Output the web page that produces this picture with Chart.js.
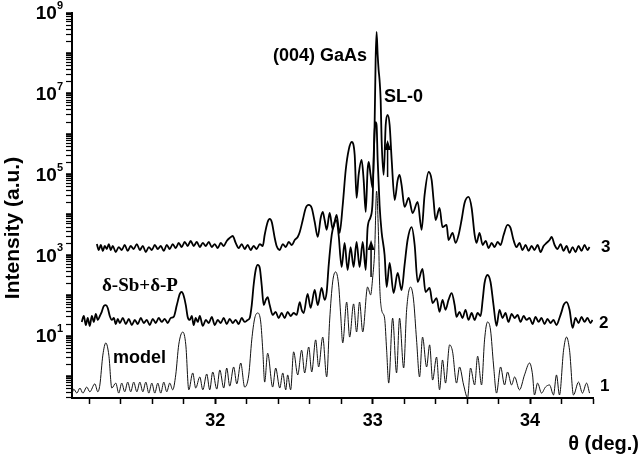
<!DOCTYPE html>
<html>
<head>
<meta charset="utf-8">
<script src="https://cdn.jsdelivr.net/npm/chart.js@4/dist/chart.umd.min.js"></script>
<style>
  html, body { margin: 0; padding: 0; background: #fff; }
  canvas { display: block; }
</style>
</head>
<body>
<canvas id="xrd" width="640" height="455"></canvas>
<script>
// curve 1 - model
const modelTheta = [31.089, 31.101, 31.121, 31.140, 31.159, 31.184, 31.203, 31.235, 31.254, 31.267,
  31.286, 31.305, 31.324, 31.343, 31.368, 31.387, 31.406, 31.425, 31.444, 31.463,
  31.482, 31.502, 31.521, 31.540, 31.559, 31.578, 31.597, 31.616, 31.635, 31.654,
  31.673, 31.692, 31.711, 31.730, 31.749, 31.768, 31.794, 31.813, 31.832, 31.857,
  31.876, 31.902, 31.921, 31.946, 31.965, 31.984, 32.010, 32.029, 32.054, 32.073,
  32.092, 32.117, 32.137, 32.162, 32.187, 32.213, 32.232, 32.251, 32.270, 32.289,
  32.302, 32.314, 32.333, 32.365, 32.384, 32.410, 32.429, 32.448, 32.460, 32.479,
  32.498, 32.524, 32.549, 32.568, 32.594, 32.613, 32.638, 32.657, 32.683, 32.708,
  32.727, 32.746, 32.765, 32.784, 32.797, 32.810, 32.835, 32.854, 32.879, 32.898,
  32.917, 32.937, 32.968, 32.987, 33.000, 33.013, 33.025, 33.038, 33.044, 33.057,
  33.076, 33.089, 33.102, 33.127, 33.152, 33.171, 33.197, 33.216, 33.241, 33.260,
  33.279, 33.298, 33.317, 33.343, 33.362, 33.381, 33.406, 33.425, 33.444, 33.463,
  33.489, 33.508, 33.533, 33.552, 33.578, 33.603, 33.622, 33.648, 33.667, 33.692,
  33.711, 33.730, 33.749, 33.768, 33.787, 33.813, 33.838, 33.857, 33.883, 33.902,
  33.933, 33.965, 33.997, 34.016, 34.028, 34.048, 34.073, 34.098, 34.124, 34.149,
  34.168, 34.187, 34.213, 34.232, 34.251, 34.276, 34.308, 34.333, 34.359, 34.378];
const modelInt = [0.35, 0.49, 0.39, 0.52, 0.39, 0.55, 0.42, 0.66, 0.42, 0.62,
  3.4, 6.8, 3.4, 0.52, 0.69, 0.39, 0.69, 0.42, 0.73, 0.42,
  0.73, 0.42, 0.73, 0.42, 0.73, 0.39, 0.69, 0.39, 0.69, 0.39,
  0.73, 0.42, 0.69, 0.47, 1.1, 6.1, 12.7, 6.1, 0.47, 1.23,
  0.52, 0.98, 0.47, 1.16, 0.47, 1.3, 0.49, 1.46, 0.52, 1.63,
  0.58, 1.73, 0.66, 2.17, 0.55, 1.1, 8.1, 28, 37.5, 22.5,
  4.5, 0.73, 3.8, 0.55, 1.63, 0.52, 1.23, 0.47, 1.1, 0.47,
  4.1, 1.1, 4.5, 1.23, 5.4, 1.3, 8.1, 1.73, 9.5, 0.98,
  25, 220, 390, 185, 33.5, 6.8, 70, 9.5, 63, 12.7,
  70, 12.7, 165, 105, 276, 1360, 3.9e4, 2400, 220, 45,
  28, 4.5, 0.69, 28, 1.23, 28, 1.63, 45, 165, 79,
  8.1, 0.98, 9.5, 1.73, 6.1, 0.82, 3.05, 0.47, 2.58, 0.69,
  6.1, 4.1, 0.69, 1.73, 0.62, 0.30, 1.63, 0.62, 3.2, 0.62,
  8.1, 22.5, 14.2, 1.94, 0.39, 1.73, 0.62, 1.3, 0.62, 0.98,
  0.47, 1.1, 2.17, 1.1, 0.35, 0.69, 0.39, 0.55, 0.62, 0.35,
  1.1, 0.35, 4.5, 9.5, 4.5, 0.35, 0.73, 0.39, 0.69, 0.39];

// curve 2 - delta-Sb + delta-P
const sbpTheta = [31.152, 31.165, 31.178, 31.190, 31.203, 31.216, 31.229, 31.241, 31.254, 31.267,
  31.279, 31.292, 31.305, 31.317, 31.330, 31.343, 31.356, 31.368, 31.381, 31.394,
  31.413, 31.432, 31.451, 31.470, 31.489, 31.508, 31.527, 31.546, 31.565, 31.584,
  31.603, 31.622, 31.641, 31.660, 31.679, 31.698, 31.717, 31.736, 31.756, 31.775,
  31.787, 31.800, 31.813, 31.825, 31.838, 31.851, 31.863, 31.876, 31.889, 31.902,
  31.921, 31.940, 31.959, 31.978, 31.997, 32.016, 32.035, 32.054, 32.073, 32.092,
  32.111, 32.130, 32.149, 32.168, 32.187, 32.206, 32.219, 32.232, 32.244, 32.257,
  32.270, 32.283, 32.295, 32.308, 32.321, 32.333, 32.346, 32.365, 32.384, 32.403,
  32.422, 32.441, 32.460, 32.479, 32.498, 32.517, 32.537, 32.549, 32.562, 32.587,
  32.606, 32.632, 32.651, 32.676, 32.695, 32.708, 32.721, 32.740, 32.759, 32.771,
  32.784, 32.803, 32.822, 32.841, 32.860, 32.879, 32.898, 32.917, 32.937, 32.956,
  32.968, 32.987, 33.000, 33.006, 33.013, 33.019, 33.025, 33.032, 33.044, 33.057,
  33.076, 33.089, 33.108, 33.133, 33.159, 33.184, 33.203, 33.222, 33.248, 33.267,
  33.286, 33.317, 33.336, 33.362, 33.381, 33.406, 33.425, 33.444, 33.463, 33.482,
  33.502, 33.521, 33.533, 33.552, 33.571, 33.590, 33.609, 33.629, 33.648, 33.667,
  33.686, 33.699, 33.711, 33.730, 33.749, 33.768, 33.787, 33.806, 33.825, 33.844,
  33.863, 33.883, 33.902, 33.921, 33.940, 33.959, 33.978, 33.997, 34.016, 34.035,
  34.054, 34.073, 34.092, 34.111, 34.130, 34.149, 34.168, 34.187, 34.200, 34.213,
  34.232, 34.251, 34.270, 34.289, 34.308, 34.327, 34.346, 34.365, 34.384, 34.397];
const sbpInt = [22.5, 31.6, 18.9, 28.2, 17.9, 31.6, 22.5, 35.5, 25.2, 31.6,
  40, 56, 59, 50, 31.6, 25.2, 28.2, 20, 26.7, 21.2,
  28.2, 20, 26.7, 18.9, 25.2, 20, 28.2, 21.2, 25.2, 18.9,
  26.7, 21.2, 28.2, 22.5, 26.7, 21.2, 28.2, 30, 59, 111,
  124, 99, 59, 30, 25.2, 31.6, 18.9, 28.2, 22.5, 31.6,
  17.9, 25.2, 21.2, 30, 18.9, 25.2, 21.2, 28.2, 20, 26.7,
  21.2, 25.2, 20, 28.2, 22.5, 25.2, 28.2, 59, 185, 435,
  580, 488, 185, 59, 79, 93, 59, 33.5, 40, 28.2,
  37.5, 28.2, 40, 31.6, 37.5, 33.5, 70, 45, 37.5, 111,
  50, 139, 59, 156, 79, 124, 580, 3200, 6700, 7500,
  3200, 516, 2030, 435, 1610, 516, 2150, 516, 2150, 435,
  4800, 8900, 2.35e4, 2.3e5, 1.27e6, 2.0e6, 1.69e6, 2.3e5, 1.77e4, 3800,
  1020, 165, 650, 117, 366, 139, 580, 2400, 5000, 1810,
  220, 460, 124, 156, 66, 88, 40, 79, 45, 79,
  117, 59, 30, 40, 28.2, 45, 25.2, 37.5, 25.2, 37.5,
  31.6, 79, 207, 327, 220, 59, 17.9, 45, 28.2, 37.5,
  22.5, 35.5, 28.2, 33.5, 22.5, 31.6, 25.2, 28.2, 20, 30,
  22.5, 28.2, 20, 26.7, 21.2, 25.2, 18.9, 28.2, 40, 59,
  70, 45, 16, 28.2, 21.2, 30, 22.5, 28.2, 21.2, 25.2];

// curve 3 - measured, top trace
const topTheta = [31.248, 31.260, 31.273, 31.286, 31.298, 31.311, 31.324, 31.336, 31.349, 31.368,
  31.387, 31.406, 31.425, 31.444, 31.463, 31.482, 31.502, 31.521, 31.540, 31.559,
  31.578, 31.597, 31.616, 31.635, 31.654, 31.673, 31.692, 31.711, 31.730, 31.749,
  31.768, 31.787, 31.806, 31.825, 31.844, 31.863, 31.883, 31.902, 31.921, 31.940,
  31.959, 31.978, 31.997, 32.016, 32.035, 32.054, 32.073, 32.092, 32.111, 32.130,
  32.149, 32.168, 32.187, 32.206, 32.225, 32.244, 32.263, 32.283, 32.302, 32.314,
  32.333, 32.346, 32.359, 32.378, 32.390, 32.410, 32.429, 32.448, 32.467, 32.486,
  32.505, 32.524, 32.537, 32.556, 32.575, 32.594, 32.613, 32.632, 32.651, 32.670,
  32.683, 32.695, 32.708, 32.727, 32.746, 32.771, 32.790, 32.810, 32.829, 32.848,
  32.867, 32.886, 32.898, 32.911, 32.930, 32.943, 32.956, 32.968, 32.975, 32.987,
  33.000, 33.013, 33.019, 33.025, 33.032, 33.038, 33.044, 33.051, 33.057, 33.070,
  33.083, 33.095, 33.108, 33.121, 33.140, 33.159, 33.171, 33.184, 33.203, 33.229,
  33.254, 33.286, 33.311, 33.330, 33.356, 33.375, 33.387, 33.400, 33.425, 33.444,
  33.470, 33.482, 33.508, 33.527, 33.546, 33.565, 33.584, 33.609, 33.629, 33.648,
  33.660, 33.679, 33.699, 33.718, 33.737, 33.756, 33.775, 33.794, 33.813, 33.832,
  33.857, 33.876, 33.895, 33.914, 33.933, 33.952, 33.972, 33.991, 34.010, 34.028,
  34.048, 34.067, 34.086, 34.105, 34.124, 34.137, 34.156, 34.175, 34.194, 34.213,
  34.232, 34.251, 34.270, 34.289, 34.308, 34.327, 34.346, 34.365, 34.378];
const topInt = [1910, 1360, 1810, 1290, 1710, 1440, 1910, 1360, 1710, 1210,
  1610, 1360, 1810, 1290, 1710, 1440, 1910, 1360, 1710, 1210,
  1610, 1360, 1810, 1440, 1710, 1290, 1810, 1440, 1910, 1520,
  2030, 1610, 2150, 1710, 2280, 1710, 2150, 1610, 2030, 1710,
  2150, 1610, 1910, 1520, 2030, 1710, 2280, 2700, 3020, 2030,
  1520, 1910, 1440, 1810, 1360, 1710, 1440, 1910, 1710, 3200,
  6700, 8000, 6700, 2700, 1710, 1360, 1910, 1610, 2150, 1810,
  2400, 2860, 3800, 7500, 1.49e4, 1.77e4, 1.49e4, 6700, 2860, 8400,
  1.19e4, 7500, 4300, 1.12e4, 4500, 1.0e4, 3600, 1.77e4, 1.3e5, 4.1e5,
  6.4e5, 3.06e5, 2.64e4, 9.8e4, 2.3e5, 7.3e4, 1.19e4, 1.3e5, 2.05e5, 9.8e4,
  4.66e4, 2.24e6, 6.9e7, 3.4e8, 9.1e7, 3.9e7, 2.2e7, 7.0e6, 7.2e5, 9.8e4,
  1.69e6, 3.0e6, 1.69e6, 2.3e5, 2.35e4, 7.3e4, 9.8e4, 5.5e4, 1.58e4, 2.64e4,
  1.12e4, 2.1e4, 4300, 3.1e4, 1.16e5, 7.3e4, 2.35e4, 7500, 1.49e4, 5000,
  5700, 2400, 3600, 2030, 3200, 7500, 1.98e4, 2.8e4, 1.49e4, 3200,
  2030, 3600, 1810, 2280, 1520, 2030, 1610, 2150, 1810, 3200,
  5700, 4800, 2400, 1610, 2030, 1360, 1810, 1290, 1710, 1360,
  1810, 1210, 1710, 2030, 2400, 2860, 1810, 1440, 1910, 1290,
  1710, 1150, 1610, 1210, 1710, 1290, 1810, 1360, 1610];

// axes
const thetaTicks = [31.2, 31.4, 31.6, 31.8, 32, 32.2, 32.4, 32.6, 32.8, 33,
  33.2, 33.4, 33.6, 33.8, 34, 34.2, 34.4];
const thetaLabelled = [32, 33, 34];
const decadeExps = [1, 3, 5, 7, 9];

// SL-0 arrows: theta, base intensity, tip intensity
const arrowTheta = [32.99, 33.095];
const arrowBase = [290, 8.7e4];
const arrowTip = [2400, 7.2e5];

const SANS = '"Liberation Sans", Arial, sans-serif';

function pairs(xs, ys) {
  return xs.map((t, i) => ({ x: t, y: ys[i] }));
}

const overlay = {
  id: 'overlay',
  afterDraw(chart) {
    const { ctx } = chart;
    const xs = chart.scales.x, ys = chart.scales.y;
    ctx.save();
    ctx.fillStyle = '#000';
    ctx.strokeStyle = '#000';
    ctx.textBaseline = 'middle';

    // 10^n labels
    decadeExps.forEach(e => {
      const py = ys.getPixelForValue(Math.pow(10, e));
      ctx.font = 'bold 11px ' + SANS;
      const ew = ctx.measureText(String(e)).width;
      ctx.textAlign = 'left';
      ctx.fillText(String(e), 63 - ew, py - 7);
      ctx.font = 'bold 19px ' + SANS;
      ctx.textAlign = 'right';
      ctx.fillText('10', 63 - ew, py + 1);
    });

    // axis titles
    ctx.save();
    ctx.translate(13, 228);
    ctx.rotate(-Math.PI / 2);
    ctx.textAlign = 'center';
    ctx.font = 'bold 21px ' + SANS;
    ctx.fillText('Intensity (a.u.)', 0, 0);
    ctx.restore();

    ctx.textAlign = 'right';
    ctx.font = 'bold 20px ' + SANS;
    ctx.fillText('\u03b8 (deg.)', 639, 444);

    // annotations
    ctx.font = 'bold 18px ' + SANS;
    ctx.fillText('(004) GaAs', 367, 56);
    ctx.textAlign = 'left';
    ctx.fillText('SL-0', 384, 97);
    ctx.fillText('model', 113, 358);
    ctx.font = 'bold 19px "Liberation Serif", "Times New Roman", serif';
    ctx.fillText('\u03b4-Sb+\u03b4-P', 102, 286);
    ctx.font = 'bold 17px ' + SANS;
    ctx.fillText('3', 601, 247);
    ctx.fillText('2', 599, 323);
    ctx.fillText('1', 600, 386);

    // arrows
    arrowTheta.forEach((t, i) => {
      const px = xs.getPixelForValue(t);
      const yb = ys.getPixelForValue(arrowBase[i]);
      const yt = ys.getPixelForValue(arrowTip[i]);
      ctx.lineWidth = 1.5;
      ctx.beginPath();
      ctx.moveTo(px, yb);
      ctx.lineTo(px, yt + 8);
      ctx.stroke();
      ctx.beginPath();
      ctx.moveTo(px, yt);
      ctx.lineTo(px - 3.5, yt + 10);
      ctx.lineTo(px + 3.5, yt + 10);
      ctx.closePath();
      ctx.fill();
    });
    ctx.restore();
  }
};

new Chart(document.getElementById('xrd'), {
  type: 'line',
  data: {
    datasets: [
      { label: '3', data: pairs(topTheta, topInt), borderColor: '#000', borderWidth: 1.8 },
      { label: '2', data: pairs(sbpTheta, sbpInt), borderColor: '#000', borderWidth: 1.8 },
      { label: '1', data: pairs(modelTheta, modelInt), borderColor: '#111', borderWidth: 1 }
    ]
  },
  options: {
    responsive: false,
    animation: false,
    devicePixelRatio: 1,
    layout: { padding: { left: 0, right: 47, top: 13, bottom: 0 } },
    elements: {
      point: { radius: 0 },
      line: { cubicInterpolationMode: 'monotone', fill: false }
    },
    plugins: { legend: { display: false }, tooltip: { enabled: false } },
    scales: {
      x: {
        type: 'linear',
        min: 31.09,
        max: 34.40,
        afterBuildTicks: s => { s.ticks = thetaTicks.map(v => ({ value: v, major: thetaLabelled.includes(v) })); },
        afterFit: s => { s.height = 57; },
        ticks: {
          autoSkip: false,
          maxRotation: 0,
          padding: 6,
          color: '#000',
          font: { family: SANS, size: 18, weight: 'bold' },
          callback: v => thetaLabelled.includes(v) ? String(v) : ''
        },
        grid: {
          drawOnChartArea: false,
          drawTicks: true,
          tickLength: 6,
          tickColor: '#000',
          tickWidth: c => (c.tick && c.tick.major) ? 2 : 1.5
        },
        border: { display: true, color: '#000', width: 2 }
      },
      y: {
        type: 'logarithmic',
        min: 0.295,
        max: 1e9,
        afterBuildTicks: s => {
          const list = [];
          for (let n = -1; n <= 8; n++) {
            for (let m = 1; m <= 9; m++) {
              const v = m * Math.pow(10, n);
              if (v >= 0.295 && v <= 1e9) list.push({ value: v, major: m === 1 });
            }
          }
          list.push({ value: 1e9, major: true });
          s.ticks = list;
        },
        afterFit: s => { s.width = 72; },
        ticks: { autoSkip: false, callback: () => '' },
        grid: {
          drawOnChartArea: false,
          drawTicks: true,
          tickLength: 6,
          tickColor: '#000',
          tickWidth: c => (c.tick && c.tick.major) ? 2.5 : 1.2
        },
        border: { display: true, color: '#000', width: 2 }
      }
    }
  },
  plugins: [overlay]
});
</script>
</body>
</html>
